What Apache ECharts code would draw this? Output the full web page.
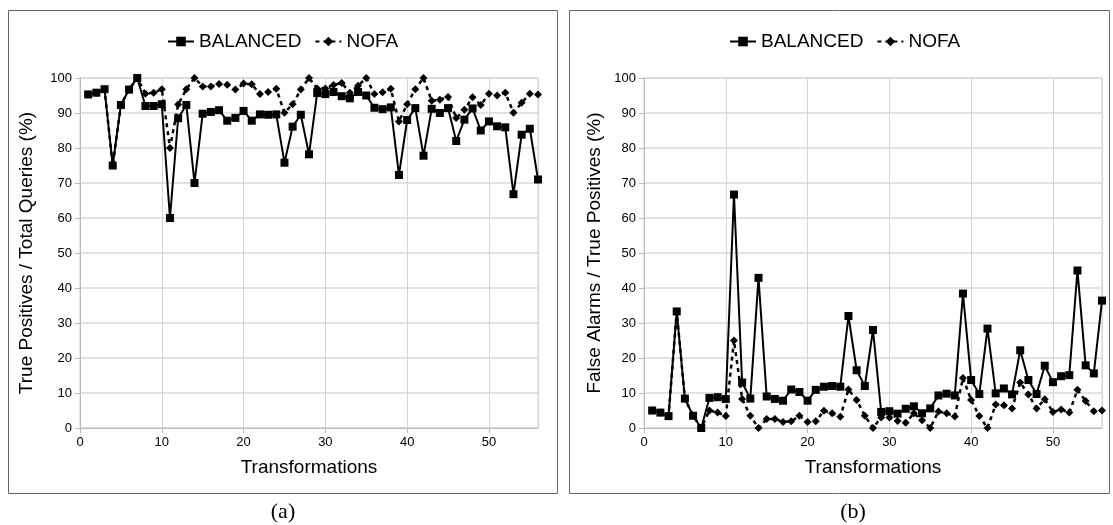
<!DOCTYPE html>
<html>
<head>
<meta charset="utf-8">
<script src="https://cdn.jsdelivr.net/npm/echarts@6/dist/echarts.min.js"></script>
<style>
  html, body { margin: 0; padding: 0; background: #fff; }
  #chart { width: 1113px; height: 525px; }
</style>
</head>
<body>
<div id="chart"></div>
<script>
// transformation index 1..56
var transformations = [];
for (var i = 1; i <= 56; i++) transformations.push(i);

// (a) true positives / total queries (%)
var tpBalanced = [95.3, 95.8, 96.8, 75, 92.3, 96.7, 100, 92, 92, 92.5,
    60, 88.5, 92.3, 70, 89.8, 90.3, 90.8, 87.8, 88.6, 90.6,
    87.8, 89.6, 89.5, 89.6, 75.8, 86.1, 89.5, 78.2, 95.7, 95.4,
    96, 94.8, 94.2, 96, 95, 91.5, 91.1, 91.6, 72.3, 88,
    91.4, 77.8, 91.2, 90, 91.4, 82, 88.1, 91.3, 85, 87.6,
    86.2, 85.9, 66.8, 83.8, 85.5, 71];
var tpNofa = [95.3, 95.8, 96.8, 75, 92.3, 96.7, 100, 95.5, 95.8, 96.8,
    80, 92.4, 96.8, 100, 97.6, 97.6, 98.3, 98.1, 96.7, 98.4,
    98.2, 95.4, 96, 96.9, 90.1, 92.5, 96.7, 100, 97, 97,
    98, 98.6, 95.8, 97.8, 100, 95.4, 95.9, 96.9, 87.6, 92.5,
    96.8, 100, 93.5, 93.8, 94.6, 88.6, 90.9, 94.5, 92.3, 95.5,
    95, 95.8, 90.1, 92.9, 95.5, 95.3];

// (b) false alarms / true positives (%)
var faBalanced = [5, 4.4, 3.4, 33.3, 8.4, 3.5, 0, 8.6, 8.8, 8.3,
    66.7, 13, 8.4, 42.9, 9, 8.3, 7.8, 11, 10.3, 7.8,
    10.9, 11.8, 12, 11.8, 32, 16.5, 12, 28, 4.6, 4.8,
    4.1, 5.5, 6.2, 4.2, 5.6, 9.3, 9.8, 9.3, 38.4, 13.7,
    9.7, 28.4, 9.9, 11.3, 9.6, 22.2, 13.7, 9.7, 17.8, 13.1,
    14.8, 15.1, 45, 17.9, 15.6, 36.4];
var faNofa = [5, 4.4, 3.4, 33.3, 8.4, 3.5, 0, 5, 4.4, 3.4,
    25, 8.3, 3.5, 0, 2.6, 2.6, 1.7, 1.9, 3.5, 1.7,
    1.9, 4.9, 4.2, 3.2, 11, 8, 3.5, 0, 3, 3,
    2, 1.5, 4.2, 2.2, 0, 4.7, 4.2, 3.3, 14.3, 8,
    3.4, 0, 6.7, 6.5, 5.6, 13, 9.6, 5.6, 8.2, 4.6,
    5.3, 4.4, 10.9, 7.7, 4.8, 5];

function pairs(vals) {
    return vals.map(function (v, i) { return [transformations[i], v]; });
}

var font = 'Liberation Sans, Arial, sans-serif';

function xAxisFor(idx) {
    return {
        type: 'value', gridIndex: idx, min: 0, max: 56, interval: 10,
        name: 'Transformations', nameLocation: 'middle', nameGap: 30,
        nameTextStyle: { fontFamily: font, fontSize: 19, color: '#000' },
        axisLine: { show: true, lineStyle: { color: '#bbb' } },
        axisTick: { show: true, length: 5, lineStyle: { color: '#bbb' } },
        axisLabel: { fontFamily: font, fontSize: 13, color: '#000', margin: 8,
            showMaxLabel: false },
        splitLine: { show: true, lineStyle: { color: '#d4d4d4' } }
    };
}

function yAxisFor(idx, name, gap) {
    return {
        type: 'value', gridIndex: idx, min: 0, max: 100, interval: 10,
        name: name, nameLocation: 'middle', nameGap: gap,
        nameTextStyle: { fontFamily: font, fontSize: 19, color: '#000' },
        axisLine: { show: true, lineStyle: { color: '#bbb' } },
        axisTick: { show: true, length: 5, lineStyle: { color: '#bbb' } },
        axisLabel: { fontFamily: font, fontSize: 13, color: '#000', margin: 8 },
        splitLine: { show: true, lineStyle: { color: '#d9d9d9', width: 1.5 } }
    };
}

function balanced(idx, vals) {
    return {
        name: 'BALANCED', type: 'line', xAxisIndex: idx, yAxisIndex: idx,
        data: pairs(vals), symbol: 'rect', symbolSize: 8,
        lineStyle: { color: '#000', width: 2 },
        itemStyle: { color: '#000' }, z: 3
    };
}

function nofa(idx, vals) {
    return {
        name: 'NOFA', type: 'line', xAxisIndex: idx, yAxisIndex: idx,
        data: pairs(vals), symbol: 'diamond', symbolSize: 8,
        lineStyle: { color: '#000', width: 2.5, type: [4, 4] },
        itemStyle: { color: '#000' }, z: 2
    };
}

var chart = echarts.init(document.getElementById('chart'));
chart.setOption({
    animation: false,
    title: [
        { text: '(a)', left: 278, top: 496, textAlign: 'center',
          textStyle: { fontFamily: 'Liberation Serif, Times New Roman, serif', fontSize: 22, fontWeight: 'normal', color: '#000' } },
        { text: '(b)', left: 848, top: 496, textAlign: 'center',
          textStyle: { fontFamily: 'Liberation Serif, Times New Roman, serif', fontSize: 22, fontWeight: 'normal', color: '#000' } }
    ],
    legend: [
        { left: 162, top: 27, itemWidth: 26, itemHeight: 12, itemGap: 13,
          data: ['BALANCED', 'NOFA'],
          textStyle: { fontFamily: font, fontSize: 19, color: '#000' } },
        { left: 724, top: 27, itemWidth: 26, itemHeight: 12, itemGap: 13,
          data: ['BALANCED', 'NOFA'],
          textStyle: { fontFamily: font, fontSize: 19, color: '#000' } }
    ],
    graphic: [
        { type: 'rect', shape: { x: 8.5, y: 10.5, width: 549, height: 483 },
          style: { fill: 'none', stroke: '#666', lineWidth: 1 } },
        { type: 'rect', shape: { x: 569.5, y: 10.5, width: 540, height: 483 },
          style: { fill: 'none', stroke: '#666', lineWidth: 1 } }
    ],
    grid: [
        { left: 80, top: 78, width: 458, height: 350, show: true,
          borderColor: '#d4d4d4', borderWidth: 1 },
        { left: 644, top: 78, width: 458, height: 350, show: true,
          borderColor: '#d4d4d4', borderWidth: 1 }
    ],
    xAxis: [xAxisFor(0), xAxisFor(1)],
    yAxis: [
        yAxisFor(0, 'True Positives / Total Queries (%)', 44),
        yAxisFor(1, 'False Alarms / True Positives (%)', 40)
    ],
    series: [
        balanced(0, tpBalanced), nofa(0, tpNofa),
        balanced(1, faBalanced), nofa(1, faNofa)
    ]
});
</script>
</body>
</html>
